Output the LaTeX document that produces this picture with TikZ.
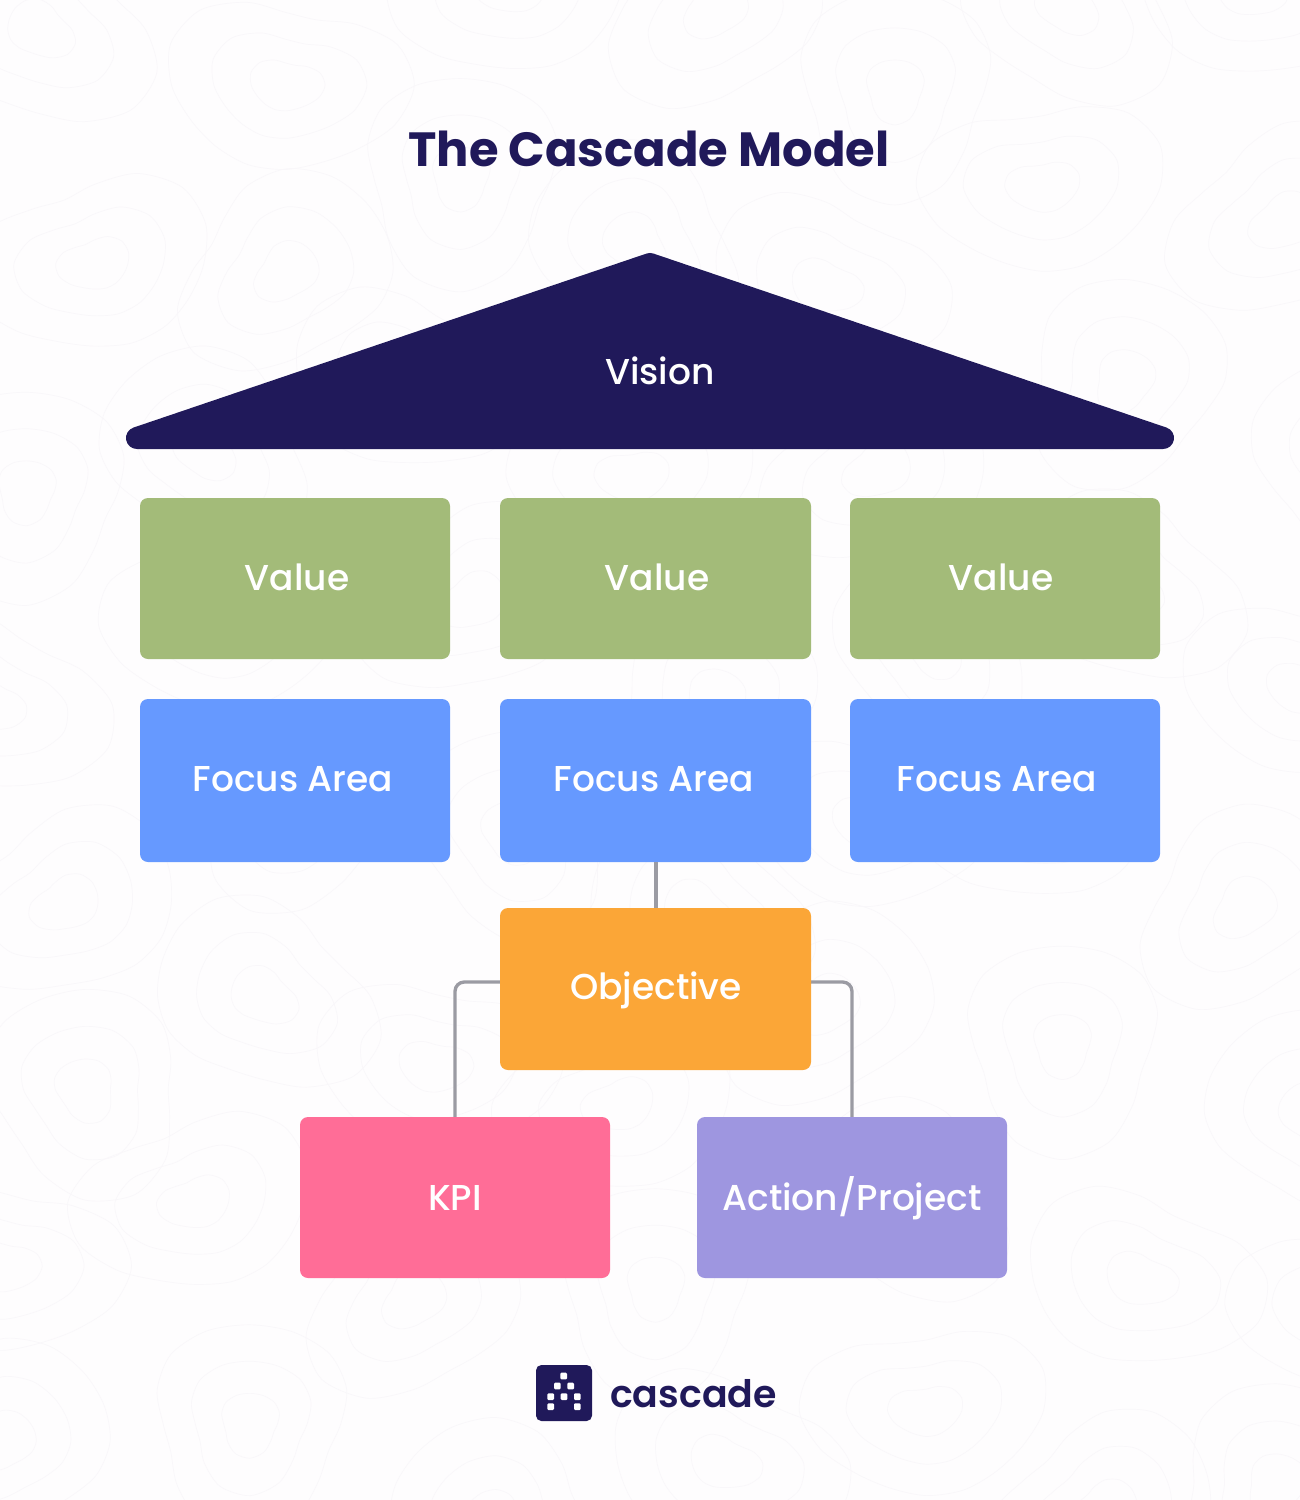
\documentclass[tikz,border=0pt]{standalone}
\usepackage{fontspec}
\setmainfont{Poppins}
\newfontfamily\poppinsmed{Poppins Medium}
\newfontfamily\poppinssemi{Poppins SemiBold}
\definecolor{navy}{HTML}{20195A}
\definecolor{greenbox}{HTML}{A3BB79}
\definecolor{bluebox}{HTML}{6699FF}
\definecolor{orangebox}{HTML}{FBA637}
\definecolor{pinkbox}{HTML}{FF6D97}
\definecolor{purplebox}{HTML}{9E96E0}
\definecolor{linkgrey}{HTML}{9B9BA3}
\definecolor{paper}{HTML}{FEFDFE}
\definecolor{contour}{HTML}{F9F7FA}
\tikzset{
  x=0.75pt,y=-0.75pt,
  box/.style={anchor=north west,inner sep=0pt,outer sep=0pt,rounded corners=6pt},
  boxtext/.style={text=white,font=\poppinsmed\fontsize{27pt}{30pt}\selectfont,inner sep=0pt,anchor=center},
  link/.style={draw=linkgrey,line width=2.5pt,rounded corners=7pt},
  pixel/.style={fill=white,rounded corners=0.8pt},
}
\begin{document}
\begin{tikzpicture}
\useasboundingbox (0,0) rectangle (1300,1500);
\fill[paper] (0,0) rectangle (1300,1500);
% faint contour background
\begin{scope}
\clip (0,0) rectangle (1300,1500);
\foreach \i in {0,...,6}{\foreach \j in {0,...,7}{
  \pgfmathsetmacro\cx{\i*210+40+55*sin(\j*97+\i*41)}
  \pgfmathsetmacro\cy{\j*205+30+60*sin(\i*113+\j*29)}
  \pgfmathsetmacro\ph{\i*67+\j*131}
  \foreach \r in {28,58,92}{
    \draw[contour,line width=0.5pt] plot[smooth cycle,samples=16,domain=0:337.5,variable=\a]
      ({\cx+\r*1.15*(1+0.16*sin(2*\a+\ph)+0.09*sin(3*\a+2*\ph))*cos(\a)},
       {\cy+\r*(1+0.16*sin(2*\a+\ph)+0.09*sin(3*\a+2*\ph))*sin(\a)});
  }
}}
\end{scope}
% title
\node[text=navy,inner sep=0pt,font=\fontsize{36pt}{40pt}\selectfont\bfseries] (title) at (649,149) {The Cascade Model};
% vision
\coordinate (apex) at (650,264);
\coordinate (vl) at (137,438);
\coordinate (vr) at (1163,438);
\filldraw[navy,line width=16.5pt,line join=round] (apex) -- (vl) -- (vr) -- cycle;
\node[boxtext] (vision) at (660,371) {Vision};
% boxes
\path[box,fill=greenbox] (140,498) rectangle (450,659) node[midway] (v1) {};
\path[box,fill=greenbox] (500,498) rectangle (811,659) node[midway] (v2) {};
\path[box,fill=greenbox] (850,498) rectangle (1160,659) node[midway] (v3) {};
\path[box,fill=bluebox] (140,699) rectangle (450,862) node[midway] (f1) {};
\path[box,fill=bluebox] (500,699) rectangle (811,862) node[midway] (f2) {};
\path[box,fill=bluebox] (850,699) rectangle (1160,862) node[midway] (f3) {};
% connectors under the boxes' edges
\coordinate (objl) at (500,982);
\coordinate (objr) at (811,982);
\coordinate (kpit) at (455,1117);
\coordinate (actt) at (852,1117);
\coordinate (ft) at (656,862);
\coordinate (ot) at (656,908);
\draw[link] (ft) -- (ot);
\draw[link] (objl) -| (kpit);
\draw[link] (objr) -| (actt);
\path[box,fill=orangebox] (500,908) rectangle (811,1070) node[midway] (obj) {};
\path[box,fill=pinkbox] (300,1117) rectangle (610,1278) node[midway] (kpi) {};
\path[box,fill=purplebox] (697,1117) rectangle (1007,1278) node[midway] (act) {};
% labels
\foreach \n/\x in {va/297,vb/657,vc/1001}{\node[boxtext] (\n) at (\x,577) {Value};}
\foreach \n/\x in {fa/293,fb/654,fc/997}{\node[boxtext] (\n) at (\x,779) {Focus Area};}
\node[boxtext] (objt) at (656,990) {Objective};
\node[boxtext] (kpit2) at (455,1198) {KPI};
\node[boxtext] (actt2) at (852,1198) {Action/Project};
% logo
\path[fill=navy,rounded corners=4pt] (536,1365) rectangle (592,1421);
\foreach \x/\y in {563.7/1376,557.3/1386,570.7/1386,550.7/1396.7,564/1396.7,577.3/1396.7,550.7/1406.7,577.3/1406.7}{
  \fill[pixel] (\x-3.3,\y-3.3) rectangle (\x+3.3,\y+3.3);
}
\node[text=navy,inner sep=0pt,font=\poppinssemi\fontsize{28.4pt}{32pt}\selectfont] (logo) at (693.5,1394) {cascade};
\end{tikzpicture}
\end{document}
